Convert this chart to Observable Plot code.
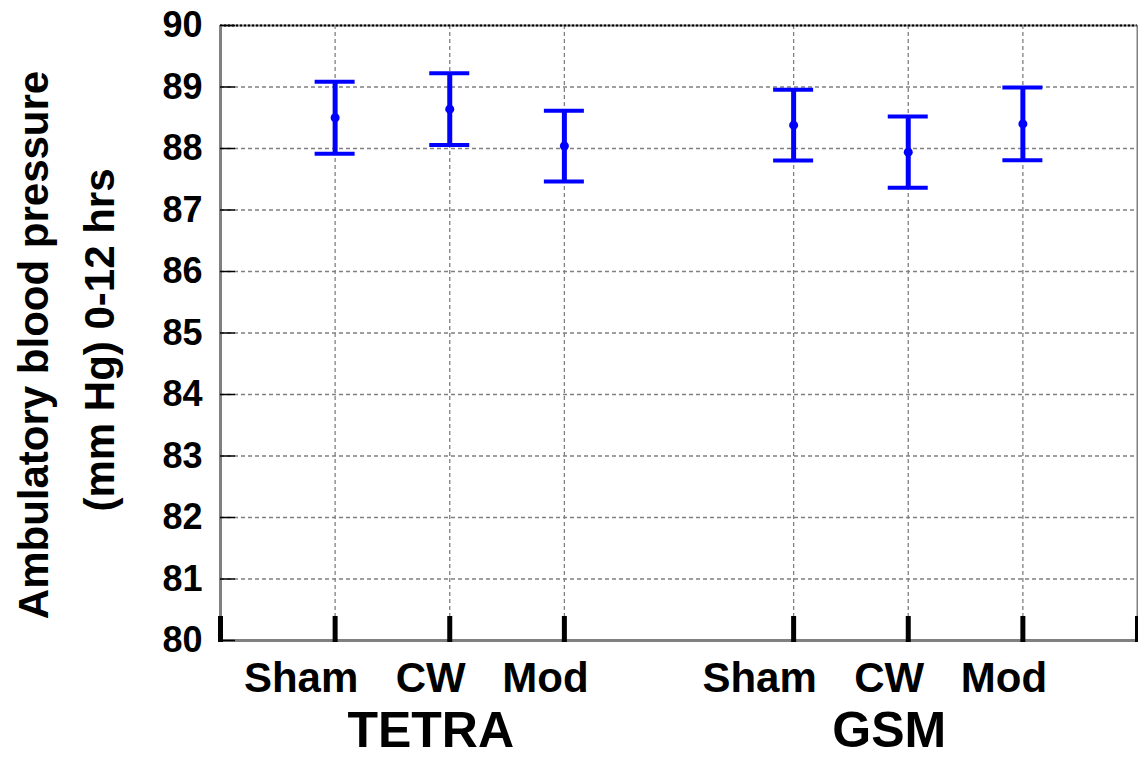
<!DOCTYPE html>
<html><head><meta charset="utf-8">
<script src="https://cdn.jsdelivr.net/npm/d3@7"></script>
<script src="https://cdn.jsdelivr.net/npm/@observablehq/plot@0.6"></script>
<style>body{margin:0;background:#fff} svg{display:block}</style>
</head><body>
<script>
// ---- data ----
const slots = ["TETRA|Sham", "TETRA|CW", "TETRA|Mod", "", "GSM|Sham", "GSM|CW", "GSM|Mod"];
const groups = ["TETRA", "TETRA", "TETRA", "GSM", "GSM", "GSM"];
const conditions = ["Sham", "CW", "Mod", "Sham", "CW", "Mod"];
const means = [88.50, 88.64, 88.04, 88.38, 87.94, 88.40];
const errors = [0.585, 0.585, 0.575, 0.575, 0.58, 0.59];
const groupNames = ["TETRA", "GSM"];
const yTicks = [80, 81, 82, 83, 84, 85, 86, 87, 88, 89, 90];
const yTitle = ["Ambulatory blood pressure", "(mm Hg) 0-12 hrs"];

// ---- derived ----
const rows = conditions.map((c, i) => ({
  group: groups[i], condition: c, mean: means[i],
  lo: means[i] - errors[i], hi: means[i] + errors[i],
  pos: slots.indexOf(groups[i] + "|" + c) + 1
}));
const xMax = slots.length + 1;
const catPos = rows.map(r => r.pos);
const tickPos = [0, ...catPos, xMax];
const groupRows = groupNames.map(g => ({name: g, pos: d3.mean(rows.filter(r => r.group === g), r => r.pos)}));
const labelShift = {Sham: -34, CW: -19, Mod: -19};

const blue = "#0000ff";
const grid = "#808080";
const font = "'Liberation Sans', Arial, Helvetica, sans-serif";

const chart = Plot.plot({
  width: 1138, height: 757,
  marginLeft: 220, marginRight: 1, marginTop: 25, marginBottom: 117,
  style: {fontFamily: font, background: "#fff", overflow: "visible"},
  x: {domain: [0, xMax], axis: null},
  y: {domain: [80, 90], axis: null},
  marks: [
    // grid
    Plot.ruleY(yTicks.filter(d => d > 80 && d < 90), {y: d => d, stroke: grid, strokeWidth: 1.3, strokeDasharray: "4,3"}),
    Plot.ruleX(catPos, {x: d => d, stroke: grid, strokeWidth: 1.3, strokeDasharray: "4,3"}),
    // frame
    Plot.ruleY([90], {y: d => d, stroke: grid, strokeWidth: 2}),
    Plot.ruleY([90], {y: d => d, stroke: "#000", strokeWidth: 2, strokeDasharray: "2,2"}),
    Plot.ruleX([xMax], {x: d => d, stroke: grid, strokeWidth: 2}),
    Plot.ruleX([0], {x: d => d, stroke: grid, strokeWidth: 3}),
    Plot.ruleY([80], {y: d => d, stroke: grid, strokeWidth: 3}),
    // y ticks (inward)
    Plot.ruleY(yTicks, {y: d => d, x1: 0, x2: 0, insetRight: -15, stroke: "#000", strokeWidth: 1.5}),
    // x ticks (thick, inward)
    Plot.ruleX(tickPos, {x: d => d, y1: 80, y2: 80, insetTop: -24, insetBottom: -2, stroke: "#000", strokeWidth: 5}),
    // y tick labels
    Plot.text(yTicks, {x: 0, y: d => d, text: d => String(d), textAnchor: "end", dx: -18, fontSize: 36, fontWeight: "bold", fill: "#000"}),
    // error bars
    Plot.ruleX(rows, {x: "pos", y1: "lo", y2: "hi", stroke: blue, strokeWidth: 5}),
    Plot.ruleY(rows, {y: "hi", x1: "pos", x2: "pos", insetLeft: -20, insetRight: -20, stroke: blue, strokeWidth: 4}),
    Plot.ruleY(rows, {y: "lo", x1: "pos", x2: "pos", insetLeft: -20, insetRight: -20, stroke: blue, strokeWidth: 4}),
    Plot.dot(rows, {x: "pos", y: "mean", r: 4.5, fill: blue, stroke: null}),
    // category labels
    ...Object.keys(labelShift).map(c =>
      Plot.text(rows.filter(r => r.condition === c), {x: "pos", frameAnchor: "bottom", text: "condition", dx: labelShift[c], dy: 38, lineAnchor: "middle", fontSize: 42, fontWeight: "bold", fill: "#000"})
    ),
    // group labels
    Plot.text(groupRows, {x: "pos", frameAnchor: "bottom", text: "name", dx: -19, dy: 90, lineAnchor: "middle", fontSize: 50, fontWeight: "bold", fill: "#000"}),
    // y title
    Plot.text([yTitle[0]], {frameAnchor: "left", text: d => d, rotate: -90, textAnchor: "middle", dx: -186, dy: 12, lineAnchor: "middle", fontSize: 42, fontWeight: "bold", fill: "#000"}),
    Plot.text([yTitle[1]], {frameAnchor: "left", text: d => d, rotate: -90, textAnchor: "middle", dx: -120, dy: 7, lineAnchor: "middle", fontSize: 42, fontWeight: "bold", fill: "#000"})
  ]
});
document.body.append(chart);
</script>
</body></html>
